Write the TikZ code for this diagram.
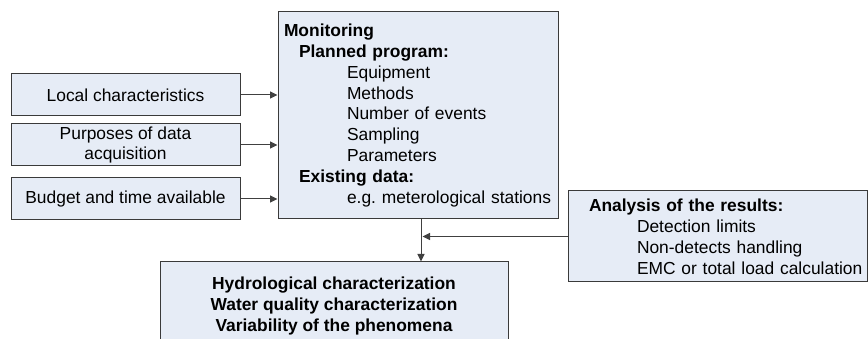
\documentclass[tikz,border=0pt]{standalone}
\usepackage{fontspec}
\setmainfont{Liberation Sans}
\usetikzlibrary{arrows.meta}
\definecolor{boxfill}{HTML}{E6ECF6}
\definecolor{boxline}{HTML}{3A3A3A}
\definecolor{linkline}{HTML}{404040}
% one unbreakable line of a box, indented by #1
\newcommand{\boxline}[2]{\mbox{\hspace*{#1}#2}}
\begin{document}
\begin{tikzpicture}[x=1pt,y=-1pt,
  box/.style={draw=boxline, fill=boxfill, line width=1pt, rectangle,
    font=\fontsize{17.4}{20.9}\selectfont, inner sep=0pt},
  leftbox/.style={box, minimum width=229pt, minimum height=42pt, align=center},
  link/.style={draw=linkline, line width=1pt,
    -{Triangle[length=7.5pt,width=7pt]}}]
  \useasboundingbox (0,0) rectangle (868,339);
  \clip (0,0) rectangle (868,339);

  % input boxes
  \node[leftbox] (local)   at (125.5,95)  {Local characteristics};
  \node[leftbox] (purpose) at (125.5,145) {Purposes of data\\acquisition};
  \node[leftbox] (budget)  at (125.5,199) {Budget and time available};

  % monitoring plan
  \node[box, minimum width=280pt, minimum height=207pt, text width=268pt,
        align=left, inner xsep=6pt] (monitor) at (418,115.5)
    {\boxline{0pt}{\textbf{Monitoring}}\\
     \boxline{15pt}{\textbf{Planned program:}}\\
     \boxline{63pt}{Equipment}\\
     \boxline{63pt}{Methods}\\
     \boxline{63pt}{Number of events}\\
     \boxline{63pt}{Sampling}\\
     \boxline{63pt}{Parameters}\\
     \boxline{15pt}{\textbf{Existing data:}}\\
     \boxline{63pt}{e.g.\ meterological stations}};

  % analysis of results
  \node[box, minimum width=299pt, minimum height=91pt, text width=287pt,
        align=left, inner xsep=6pt] (analysis) at (717.5,236.5)
    {\boxline{15pt}{\textbf{Analysis of the results:}}\\
     \boxline{63pt}{Detection limits}\\
     \boxline{63pt}{Non-detects handling}\\
     \boxline{63pt}{EMC or total load calculation}};

  % outcome
  \node[box, minimum width=348pt, minimum height=88pt, align=center,
        font=\fontsize{17.4}{20.9}\selectfont\bfseries] (result) at (334,306)
    {Hydrological characterization\\
     Water quality characterization\\
     Variability of the phenomena};

  % connectors
  \draw[link] (local.east)   -- (local.east -| monitor.west);
  \draw[link] (purpose.east) -- (purpose.east -| monitor.west);
  \draw[link] (budget.east)  -- (budget.east -| monitor.west);
  \coordinate (drop) at (421,0);
  \draw[link] (drop |- monitor.south) -- (drop |- result.north);
  \draw[link] (analysis.west) -- ([xshift=1.5pt]drop |- analysis.west);
\end{tikzpicture}
\end{document}
